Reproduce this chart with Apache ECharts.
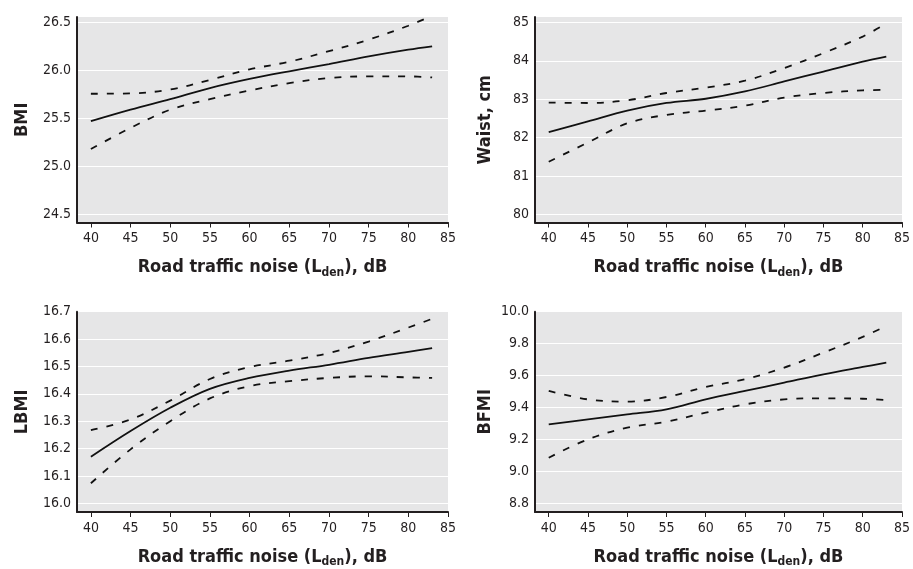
<!DOCTYPE html>
<html>
<head>
<meta charset="utf-8">
<script src="https://cdn.jsdelivr.net/npm/echarts@6/dist/echarts.min.js"></script>
<style>html,body{margin:0;padding:0;background:#fff}#c{width:913px;height:569px}</style>
</head>
<body>
<div id="c"></div>
<script>
// ---- data ----
const noise = [40, 45, 50, 55, 60, 65, 70, 75, 80, 83];
const xTicks = [40, 45, 50, 55, 60, 65, 70, 75, 80, 85];

const bmiFit   = [25.47, 25.59, 25.70, 25.815, 25.91, 25.99, 26.065, 26.145, 26.215, 26.25];
const bmiUpper = [25.756, 25.76, 25.80, 25.90, 26.01, 26.09, 26.20, 26.32, 26.465, 26.57];
const bmiLower = [25.18, 25.40, 25.59, 25.70, 25.79, 25.867, 25.92, 25.937, 25.937, 25.926];
const bmiTicks = [24.5, 25.0, 25.5, 26.0, 26.5];

const waistFit   = [82.14, 82.42, 82.70, 82.90, 83.01, 83.20, 83.46, 83.72, 83.98, 84.11];
const waistUpper = [82.91, 82.90, 82.97, 83.16, 83.30, 83.48, 83.81, 84.20, 84.63, 84.97];
const waistLower = [81.37, 81.87, 82.37, 82.59, 82.70, 82.83, 83.04, 83.16, 83.23, 83.24];
const waistTicks = [80, 81, 82, 83, 84, 85];

const lbmiFit   = [16.17, 16.264, 16.349, 16.418, 16.458, 16.485, 16.506, 16.531, 16.553, 16.567];
const lbmiUpper = [16.267, 16.306, 16.375, 16.454, 16.498, 16.521, 16.549, 16.591, 16.642, 16.674];
const lbmiLower = [16.073, 16.197, 16.30, 16.383, 16.428, 16.446, 16.458, 16.464, 16.46, 16.458];
const lbmiTicks = [16.0, 16.1, 16.2, 16.3, 16.4, 16.5, 16.6, 16.7];

const bfmiFit   = [9.295, 9.326, 9.357, 9.389, 9.451, 9.504, 9.556, 9.608, 9.654, 9.681];
const bfmiUpper = [9.504, 9.451, 9.437, 9.466, 9.529, 9.577, 9.65, 9.744, 9.842, 9.911];
const bfmiLower = [9.086, 9.201, 9.274, 9.311, 9.368, 9.42, 9.451, 9.458, 9.455, 9.447];
const bfmiTicks = [8.8, 9.0, 9.2, 9.4, 9.6, 9.8, 10.0];

const yNames = ['BMI', 'Waist, cm', 'LBMI', 'BFMI'];
const xName = '{a|Road traffic noise (L}{s|den}{a|), dB}';

// ---- styles ----
const FONT = "'Liberation Sans Narrow', 'DejaVu Sans Condensed', 'Arial Narrow', sans-serif";
const TXT = '#231f20';
const BG = '#e6e6e7';

const grids = [
  {left: 77, top: 17, width: 371, height: 205.5},
  {left: 535, top: 17, width: 369.5, height: 205.5},
  {left: 77, top: 311.7, width: 371, height: 201},
  {left: 535, top: 311.7, width: 369.5, height: 201}
];
const yRanges = [[24.414, 26.556], [79.786, 85.14], [15.968, 16.7], [8.746, 10.0]];
const yTickSets = [bmiTicks, waistTicks, lbmiTicks, bfmiTicks];
const yFmt = [v => v.toFixed(1), v => String(Math.round(v)), v => v.toFixed(1), v => v.toFixed(1)];
const yGaps = [46, 41, 46, 41];
const panels = [
  [bmiFit, bmiUpper, bmiLower],
  [waistFit, waistUpper, waistLower],
  [lbmiFit, lbmiUpper, lbmiLower],
  [bfmiFit, bfmiUpper, bfmiLower]
];

const option = {
  animation: false,
  backgroundColor: '#fff',
  grid: grids.map(g => Object.assign({backgroundColor: BG, show: true, borderWidth: 0, containLabel: false}, g)),
  xAxis: grids.map((g, i) => ({
    type: 'value', gridIndex: i, min: 38.25, max: 85,
    name: xName, nameLocation: 'middle', nameGap: 34,
    nameTextStyle: {
      fontFamily: FONT, fontWeight: 'bold', color: TXT,
      rich: {
        a: {fontFamily: FONT, fontWeight: 'bold', fontSize: 18, color: TXT},
        s: {fontFamily: FONT, fontWeight: 'bold', fontSize: 12, color: TXT, padding: [10, 0, 0, 0]}
      }
    },
    axisLine: {show: true, onZero: false, lineStyle: {color: '#231f20', width: 2}},
    axisTick: {show: true, length: 5, customValues: xTicks, lineStyle: {color: '#231f20', width: 1}},
    axisLabel: {customValues: xTicks, fontFamily: FONT, fontSize: 14, color: TXT, margin: 9},
    splitLine: {show: false}
  })),
  yAxis: grids.map((g, i) => ({
    type: 'value', gridIndex: i, min: yRanges[i][0], max: yRanges[i][1],
    name: yNames[i], nameLocation: 'middle', nameGap: yGaps[i],
    nameTextStyle: {fontFamily: FONT, fontWeight: 'bold', fontSize: 18, color: TXT},
    axisLine: {show: true, onZero: false, lineStyle: {color: '#231f20', width: 2}},
    axisTick: {show: false, customValues: yTickSets[i]},
    axisLabel: {customValues: yTickSets[i], formatter: yFmt[i], fontFamily: FONT, fontSize: 14, color: TXT, margin: 6},
    splitLine: {show: true, lineStyle: {color: '#ffffff', width: 1.2}}
  })),
  series: []
};

panels.forEach((p, i) => {
  p.forEach((vals, k) => {
    option.series.push({
      type: 'line', xAxisIndex: i, yAxisIndex: i,
      data: noise.map((x, j) => [x, vals[j]]),
      smooth: 0.35, showSymbol: false, symbol: 'none', clip: true,
      lineStyle: {color: '#111', width: 1.8, type: k === 0 ? 'solid' : [7, 9]}
    });
  });
});

const chart = echarts.init(document.getElementById('c'), null, {renderer: 'canvas'});
chart.setOption(option);
</script>
</body>
</html>
